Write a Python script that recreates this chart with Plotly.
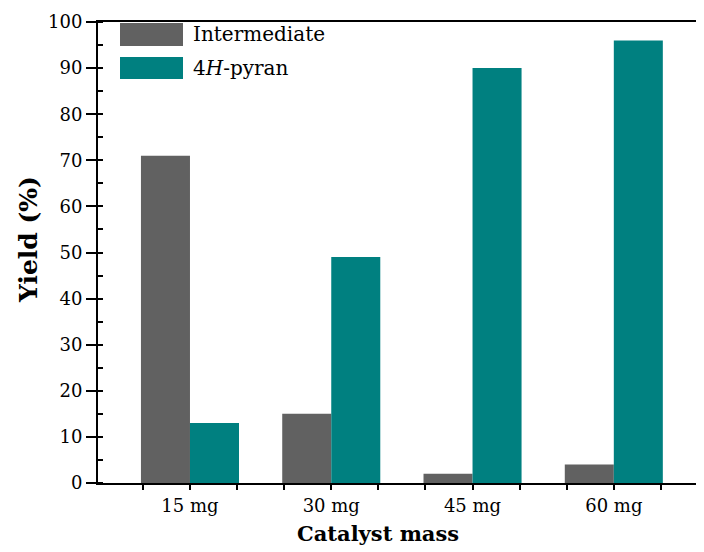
import plotly.graph_objects as go

categories = ["15 mg", "30 mg", "45 mg", "60 mg"]
intermediate = [71, 15, 2, 4]
pyran = [13, 49, 90, 96]
series_names = ["Intermediate", "4<i>H</i>-pyran"]
colors = ["#616161", "#008080"]

x = list(range(len(categories)))
FONT = "DejaVu Serif"

# page body adds an 8px offset; target screen coordinates are compensated
OFF = 8
W, H = 704, 552
L = 98 - OFF
T = 22 - OFF
R = 0
B = H - (483 - OFF)
PW, PH = W - L - R, H - T - B


def px_x(sx):
    return (sx - OFF - L) / PW


def px_y(sy):
    return (T + PH - (sy - OFF)) / PH


fig = go.Figure()
fig.add_trace(go.Bar(x=x, y=intermediate, name=series_names[0], marker=dict(color=colors[0], line=dict(width=0)), showlegend=False))
fig.add_trace(go.Bar(x=x, y=pyran, name=series_names[1], marker=dict(color=colors[1], line=dict(width=0)), showlegend=False))

fig.update_layout(
    width=W, height=H,
    margin=dict(l=L, r=R, t=T, b=B, autoexpand=False),
    paper_bgcolor="white", plot_bgcolor="white",
    barmode="group", bargap=0.306, bargroupgap=0,
    font=dict(family=FONT, color="black"),
)
fig.update_xaxes(
    range=[-0.651, 3.695], automargin=False,
    tickmode="array", tickvals=x, ticktext=categories,
    ticks="outside", ticklen=5, tickwidth=1.5, tickcolor="black",
    tickfont=dict(size=18, family=FONT),
    showline=True, linecolor="black", linewidth=2, mirror=True,
    showgrid=False, zeroline=False,
    minor=dict(tickmode="linear", tick0=0, dtick=1/3, ticks="outside", ticklen=5, tickwidth=1.5, tickcolor="black", showgrid=False),
)
fig.update_yaxes(
    range=[0, 100], dtick=10, automargin=False,
    ticks="outside", ticklen=10, tickwidth=1.5, tickcolor="black",
    tickfont=dict(size=18, family=FONT),
    showline=True, linecolor="black", linewidth=2,
    showgrid=False, zeroline=False,
    minor=dict(dtick=5, ticks="inside", ticklen=5, tickwidth=1.5, tickcolor="black", showgrid=False),
)

# axis titles
fig.add_annotation(xref="paper", yref="paper", x=px_x(378), y=px_y(533),
                   text="<b>Catalyst mass</b>", showarrow=False, xanchor="center", yanchor="middle",
                   font=dict(size=21, family=FONT, color="black"))
fig.add_annotation(xref="paper", yref="paper", x=px_x(28), y=px_y(240),
                   text="<b>Yield (%)</b>", showarrow=False, xanchor="center", yanchor="middle",
                   textangle=-90, font=dict(size=25, family=FONT, color="black"))

# legend drawn as boxes + labels
legend_boxes = [(23, 46), (57, 79)]
for name, col, (ya, yb) in zip(series_names, colors, legend_boxes):
    fig.add_shape(type="rect", xref="paper", yref="paper",
                  x0=px_x(120), x1=px_x(183), y0=px_y(yb), y1=px_y(ya),
                  fillcolor=col, line=dict(width=0))
    fig.add_annotation(xref="paper", yref="paper", x=px_x(191), y=px_y((ya + yb) / 2),
                       text=name, showarrow=False, xanchor="left", yanchor="middle",
                       font=dict(size=20, family=FONT, color="black"))

fig.write_html("out.html")
